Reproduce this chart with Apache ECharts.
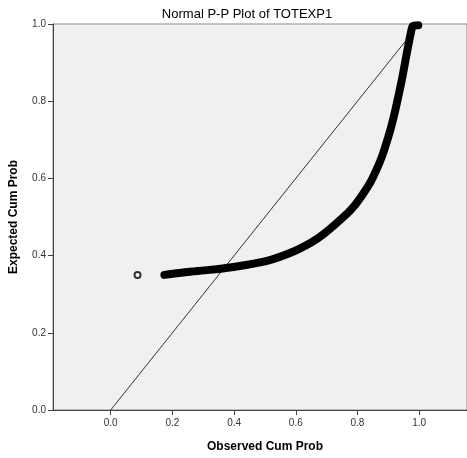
<!DOCTYPE html>
<html>
<head>
<meta charset="utf-8">
<script src="https://cdn.jsdelivr.net/npm/echarts@6/dist/echarts.min.js"></script>
<style>
  html, body { margin: 0; padding: 0; background: #fff; }
  #main { width: 467px; height: 458px; }
</style>
</head>
<body>
<div id="main"></div>
<script>
// tick labels
var xTicks = [0.0, 0.2, 0.4, 0.6, 0.8, 1.0];
var yTicks = [0.0, 0.2, 0.4, 0.6, 0.8, 1.0];

// observed vs expected cum prob
var observed = [0.174, 0.241, 0.320, 0.392, 0.500, 0.585, 0.650, 0.691, 0.768, 0.794, 0.820, 0.842, 0.858, 0.880, 0.907, 0.923, 0.944, 0.960, 0.973, 0.980, 0.997];
var expected = [0.350, 0.357, 0.363, 0.370, 0.385, 0.408, 0.434, 0.456, 0.510, 0.533, 0.562, 0.590, 0.616, 0.658, 0.727, 0.778, 0.856, 0.925, 0.977, 0.995, 0.997];

// lone case far left
var outlierX = [0.087];
var outlierY = [0.350];

// reference diagonal
var diagX = [0, 1];
var diagY = [0, 1];

function pairs(xs, ys) {
    var out = [];
    for (var i = 0; i < xs.length; i++) out.push([xs[i], ys[i]]);
    return out;
}

var labelFont = { fontFamily: 'Liberation Sans Narrow, Arial, sans-serif', fontSize: 10, color: '#333' };

var myChart = echarts.init(document.getElementById('main'));

var option = {
    backgroundColor: '#fff',
    animation: false,
    title: {
        text: 'Normal P-P Plot of TOTEXP1',
        left: 242,
        textAlign: 'center',
        top: 3,
        textStyle: { fontFamily: 'Liberation Sans, Arial, sans-serif', fontSize: 13, fontWeight: 'normal', color: '#000' }
    },
    grid: {
        left: 50, right: -1, top: 24, bottom: 46,
        show: true,
        backgroundColor: '#f0f0f0',
        borderColor: '#8a8a8a',
        borderWidth: 1
    },
    xAxis: {
        type: 'value',
        min: -0.187,
        max: 1.155,
        name: 'Observed Cum Prob',
        nameLocation: 'middle',
        nameGap: 31,
        nameTextStyle: { fontFamily: 'Liberation Sans, Arial, sans-serif', fontSize: 12, fontWeight: 'bold', color: '#000', padding: [0, 0, 0, 10] },
        splitLine: { show: false },
        axisLine: { show: true, onZero: false, lineStyle: { color: '#444', width: 1 } },
        axisTick: { show: true, length: 5, lineStyle: { color: '#444' }, customValues: xTicks },
        axisLabel: Object.assign({ margin: 8, customValues: xTicks, formatter: function (v) { return v.toFixed(1); } }, labelFont)
    },
    yAxis: {
        type: 'value',
        min: 0,
        max: 1,
        interval: 0.2,
        name: 'Expected Cum Prob',
        nameLocation: 'middle',
        nameGap: 33,
        nameTextStyle: { fontFamily: 'Liberation Sans, Arial, sans-serif', fontSize: 12, fontWeight: 'bold', color: '#000' },
        splitLine: { show: false },
        axisLine: { show: true, onZero: false, lineStyle: { color: '#444', width: 1 } },
        axisTick: { show: true, length: 5, lineStyle: { color: '#444' } },
        axisLabel: Object.assign({ margin: 7, formatter: function (v) { return v.toFixed(1); } }, labelFont)
    },
    series: [
        {
            type: 'line',
            data: pairs(diagX, diagY),
            symbol: 'none',
            lineStyle: { color: '#333', width: 1 },
            z: 2
        },
        {
            type: 'line',
            data: pairs(observed, expected),
            symbol: 'none',
            smooth: 0.3,
            lineStyle: { color: '#000', width: 8, cap: 'round', join: 'round' },
            z: 3
        },
        {
            type: 'scatter',
            data: pairs(outlierX, outlierY),
            symbol: 'emptyCircle',
            symbolSize: 6,
            itemStyle: { color: '#000', borderColor: '#000', borderWidth: 1.6 },
            z: 4
        }
    ]
};

myChart.setOption(option);
</script>
</body>
</html>
